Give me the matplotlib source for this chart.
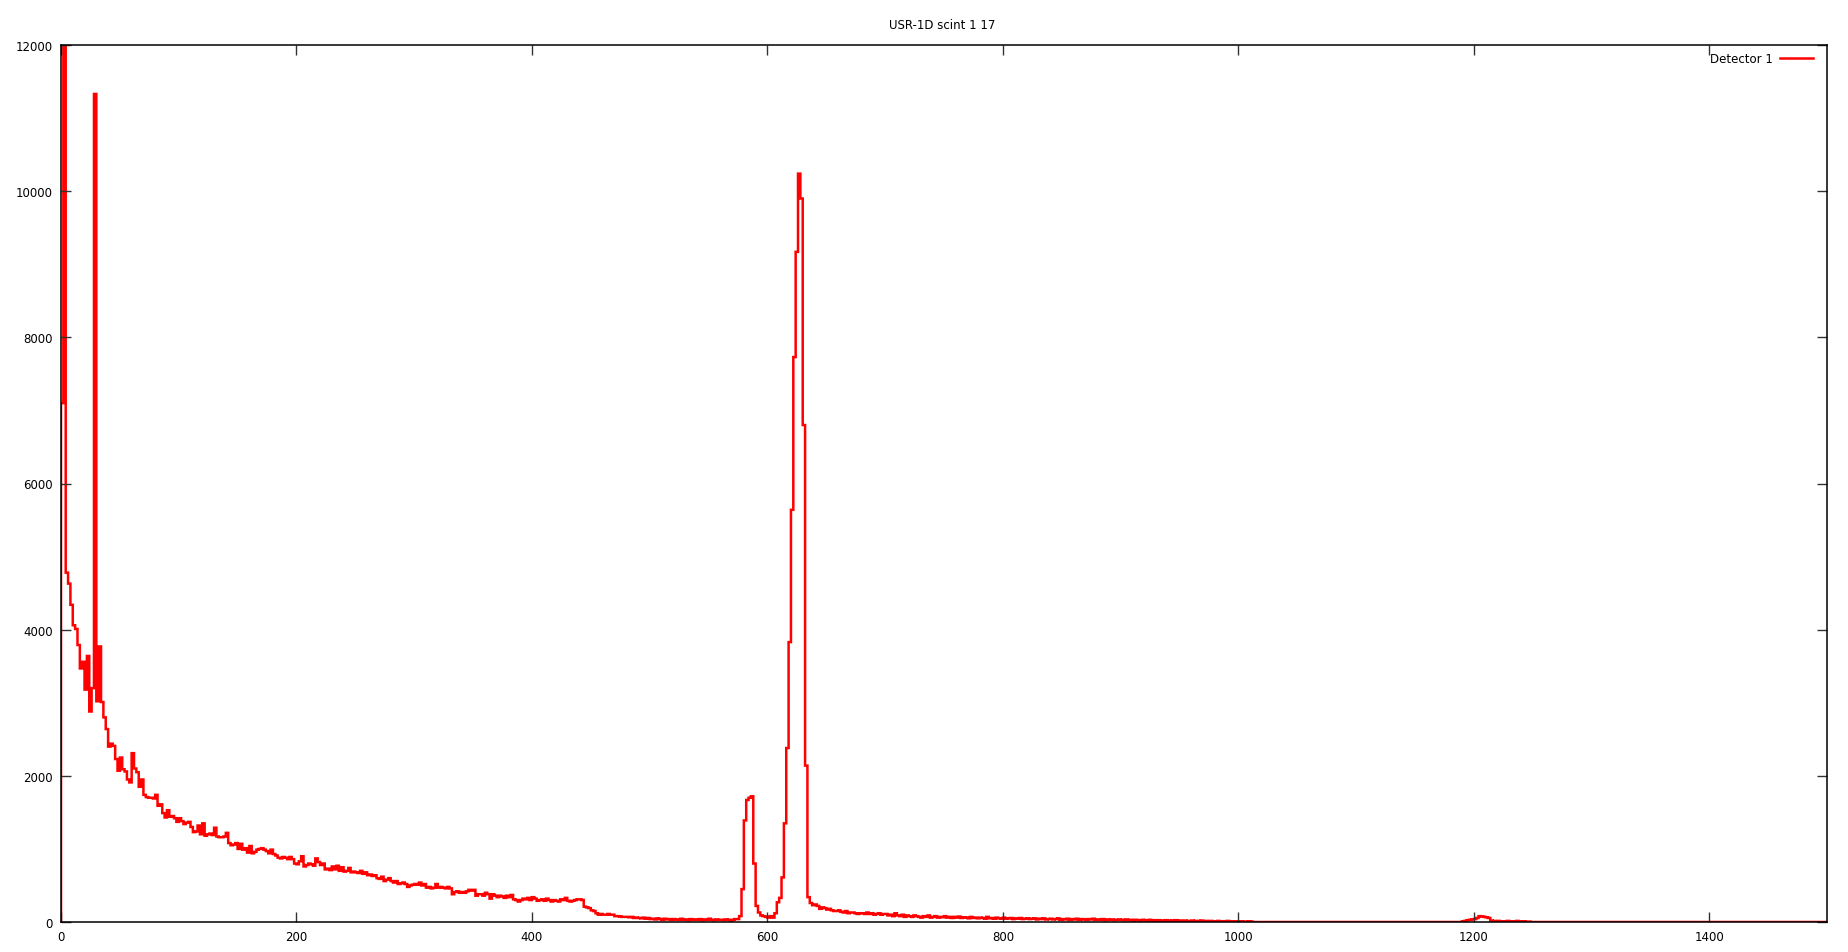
import matplotlib
matplotlib.use('Agg')
import matplotlib.pyplot as plt
import numpy as np

# histogram of detector 1, bins of width 2 (0..1500)
bin_width = 2
x_max = 1500

counts_0_100 = [7100, 15000, 4780, 4630, 4340, 4060, 4010, 3790, 3470, 3560,
                3180, 3640, 2880, 3200, 11330, 3020, 3770, 3010, 2800, 2640,
                2400, 2440, 2410, 2230, 2070, 2250, 2090, 2060, 1950, 1910,
                2310, 2100, 2050, 1850, 1950, 1740, 1710, 1700, 1700, 1690,
                1740, 1590, 1610, 1490, 1430, 1530, 1440, 1450, 1420, 1370]
counts_100_200 = [1420, 1380, 1340, 1360, 1370, 1300, 1230, 1240, 1320, 1200,
                  1350, 1180, 1200, 1210, 1190, 1290, 1170, 1160, 1160, 1170,
                  1220, 1080, 1050, 1060, 1080, 1000, 1070, 990, 1010, 950,
                  1040, 940, 960, 990, 1000, 1010, 990, 970, 940, 990,
                  930, 910, 880, 870, 890, 880, 860, 890, 860, 800]
counts_200_300 = [790, 830, 900, 760, 780, 800, 790, 770, 870, 820,
                  780, 800, 720, 730, 710, 760, 720, 770, 700, 750,
                  690, 700, 740, 680, 690, 680, 670, 700, 660, 680,
                  640, 650, 630, 640, 600, 590, 620, 560, 580, 600,
                  560, 540, 560, 520, 530, 540, 520, 480, 500, 510]
counts_300_400 = [520, 510, 540, 500, 520, 470, 480, 460, 470, 520,
                  470, 480, 470, 460, 480, 460, 380, 410, 420, 400,
                  410, 400, 420, 440, 430, 440, 360, 380, 380, 360,
                  400, 380, 320, 380, 360, 340, 360, 350, 330, 360,
                  340, 370, 310, 300, 280, 300, 320, 310, 330, 300]
counts_400_500 = [340, 320, 290, 300, 310, 290, 320, 300, 280, 300,
                  290, 280, 310, 300, 330, 290, 280, 290, 300, 310,
                  310, 300, 210, 200, 190, 160, 150, 120, 100, 110,
                  100, 100, 110, 100, 100, 80, 80, 75, 70, 70,
                  70, 65, 70, 55, 60, 55, 50, 60, 45, 55]
counts_500_600 = [40, 45, 35, 50, 40, 30, 45, 35, 40, 30,
                  40, 35, 30, 45, 30, 35, 25, 40, 30, 35,
                  30, 40, 25, 35, 30, 45, 30, 25, 35, 30,
                  30, 25, 35, 30, 20, 30, 40, 40, 80, 450,
                  1390, 1670, 1700, 1720, 800, 220, 130, 90, 80, 70]
counts_600_700 = [60, 80, 60, 120, 270, 330, 610, 1350, 2380, 3830,
                  5640, 7730, 9170, 10240, 9900, 6800, 2140, 340, 260, 230,
                  240, 220, 180, 200, 190, 170, 180, 160, 150, 150,
                  160, 140, 130, 150, 120, 130, 130, 120, 110, 120,
                  120, 110, 130, 110, 120, 100, 110, 120, 100, 110]
counts_700_800 = [110, 90, 100, 80, 120, 90, 80, 100, 70, 90,
                  80, 70, 90, 80, 70, 60, 80, 70, 90, 60,
                  70, 80, 60, 70, 65, 80, 60, 70, 55, 70,
                  60, 75, 55, 65, 60, 50, 70, 55, 60, 50,
                  60, 55, 45, 70, 50, 55, 45, 60, 50, 45]
counts_800_900 = [60, 45, 50, 55, 40, 50, 45, 55, 40, 45,
                  50, 40, 45, 50, 35, 45, 40, 50, 35, 40,
                  45, 35, 40, 50, 30, 40, 35, 45, 30, 40,
                  35, 45, 30, 40, 35, 30, 40, 35, 45, 30,
                  35, 30, 40, 25, 35, 30, 35, 25, 30, 35]
counts_900_1012 = [30, 25, 35, 25, 30, 20, 30, 25, 20, 30,
                   25, 20, 30, 20, 25, 15, 25, 20, 15, 25,
                   20, 15, 20, 25, 15, 20, 10, 20, 15, 10,
                   20, 15, 10, 15, 20, 10, 15, 10, 15, 10,
                   10, 15, 10, 5, 10, 15, 5, 10, 5, 10,
                   5, 10, 5, 5, 10, 5]
counts_1012_1190 = [0] * 89
counts_1190_1250 = [10, 15, 25, 30, 35, 40, 55, 80, 75, 70,
                    65, 55, 20, 15, 10, 15, 10, 5, 10, 15,
                    10, 5, 10, 15, 10, 5, 10, 5, 5, 0]
counts_1250_1500 = [0] * 125

counts = np.array(counts_0_100 + counts_100_200 + counts_200_300 + counts_300_400
                  + counts_400_500 + counts_500_600 + counts_600_700 + counts_700_800
                  + counts_800_900 + counts_900_1012 + counts_1012_1190
                  + counts_1190_1250 + counts_1250_1500, dtype=float)
edges = np.arange(0, x_max + bin_width, bin_width)

fig = plt.figure(figsize=(18.48, 9.53), dpi=100)
ax = fig.add_axes([61/1848, 1 - 923/953, (1827 - 61)/1848, (923 - 46)/953])

ax.stairs(counts, edges, color='#ff0000', lw=1.8, label='Detector 1')

ax.set_xlim(0, 1500)
ax.set_ylim(0, 12000)
ax.set_xticks(np.arange(0, 1401, 200))
ax.set_yticks(np.arange(0, 12001, 2000))
ax.tick_params(direction='in', length=7, width=1, labelsize=8.5, top=True, right=True,
               color='#333333', pad=6)
for s in ax.spines.values():
    s.set_linewidth(1.1)
    s.set_color('black')

leg = ax.legend(loc='upper right', bbox_to_anchor=(1, 1.008), frameon=False,
                fontsize=8.5, markerfirst=False,
                handlelength=2.8, borderaxespad=0.8, handletextpad=0.6)

# title centred over the plot area, as gnuplot does
fig.text(942/1848, 1 - 25.5/953, 'USR-1D scint 1 17', ha='center', va='center', fontsize=8.5)

plt.savefig('out.png', dpi=100)
